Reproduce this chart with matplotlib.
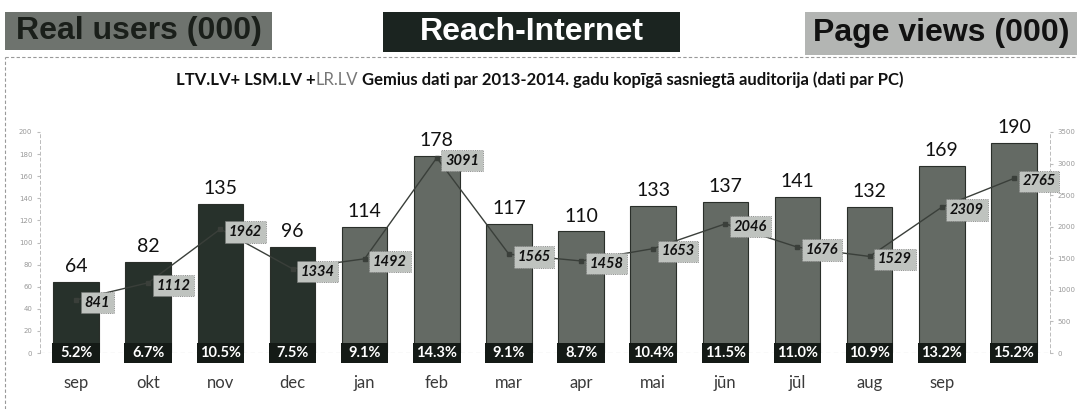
import matplotlib.pyplot as plt
from matplotlib.patches import Rectangle

months = ['sep', 'okt', 'nov', 'dec', 'jan', 'feb', 'mar', 'apr',
          'mai', 'jūn', 'jūl', 'aug', 'sep', '']
real_users = [64, 82, 135, 96, 114, 178, 117, 110, 133, 137, 141, 132, 169, 190]
page_views = [841, 1112, 1962, 1334, 1492, 3091, 1565, 1458, 1653, 2046, 1676, 1529, 2309, 2765]
reach = ['5.2%', '6.7%', '10.5%', '7.5%', '9.1%', '14.3%', '9.1%', '8.7%',
         '10.4%', '11.5%', '11.0%', '10.9%', '13.2%', '15.2%']

W, H = 1077, 409
fig = plt.figure(figsize=(W / 100, H / 100), dpi=100)
fig.patch.set_facecolor('white')

head_font = ['Liberation Sans Narrow', 'Liberation Sans', 'DejaVu Sans']
body_font = ['Lato', 'DejaVu Sans']

# header boxes (pixel positions -> figure fractions)
def header(x0, x1, y0, y1, color, text, tcolor):
    fig.patches.append(Rectangle((x0 / W, 1 - y1 / H), (x1 - x0) / W, (y1 - y0) / H,
                                 transform=fig.transFigure, facecolor=color, edgecolor='none'))
    fig.text((x0 + x1) / 2 / W, 1 - (y0 + y1) / 2 / H, text, ha='center', va='center',
             fontsize=23, fontweight='bold', color=tcolor, family=head_font)

header(5, 272, 12, 50, '#6e736e', 'Real users (000)', '#1a1f1a')
header(383, 680, 12, 52, '#1b2420', 'Reach-Internet', 'white')
header(805, 1077, 12, 55, '#b3b5b3', 'Page views (000)', '#111111')

# dashed frame round the chart
fig.add_artist(plt.Line2D([5 / W, 1], [1 - 57 / H, 1 - 57 / H], transform=fig.transFigure,
                          color='#999999', lw=0.8, ls=(0, (3, 2))))
fig.add_artist(plt.Line2D([5 / W, 5 / W], [0, 1 - 57 / H], transform=fig.transFigure,
                          color='#999999', lw=0.8, ls=(0, (3, 2))))

ax = fig.add_axes([40 / W, 1 - 353 / H, 1010 / W, 221 / H])

# title, with LR.LV in lighter grey
tsize = 12
t1 = fig.text(176 / W, 1 - 80 / H, 'LTV.LV+ LSM.LV +', ha='left', va='center',
              fontsize=tsize, fontweight='bold', color='#111111', family=body_font)
a2 = ax.annotate('LR.LV', xy=(1, 0.5), xycoords=t1, va='center', ha='left',
                 fontsize=tsize, color='#777777', family=body_font, annotation_clip=False)
ax.annotate(' Gemius dati par 2013-2014. gadu kopīgā sasniegtā auditorija (dati par PC)',
            xy=(1, 0.5), xycoords=a2, va='center', ha='left', fontsize=tsize,
            fontweight='bold', color='#111111', family=body_font, annotation_clip=False)

x = list(range(len(months)))
colors = ['#27312b'] * 4 + ['#646a64'] * 10
ax.bar(x, real_users, width=0.63, color=colors, edgecolor='#2a2f2a', linewidth=0.8, zorder=2)

# reach boxes sitting on the zero line
ax.bar(x, [18] * len(x), bottom=-9, width=0.66, color='#141a16', zorder=4, clip_on=False)

for i, v in enumerate(real_users):
    ax.annotate(str(v), (i, v), xytext=(0, 5), textcoords='offset points', ha='center',
                va='bottom', fontsize=14, color='#111111', family=body_font)
    ax.text(i, 0, reach[i], ha='center', va='center', fontsize=10.5, fontweight='bold',
            color='white', family=body_font, zorder=5, clip_on=False)

ax.set_xlim(-0.5, len(months) - 0.5)
ax.set_ylim(0, 200)
ax.set_yticks(range(0, 201, 20))
ax.set_xticks(x)
ax.set_xticklabels(months, fontsize=12, color='#3a3a3a', family=body_font)
ax.tick_params(axis='x', length=0, pad=16)
ax.tick_params(axis='y', labelsize=5, labelcolor='#999999', length=2, color='#bbbbbb')
ax.axhline(0, color='#999999', lw=0.8, ls=(0, (4, 3)), zorder=1)
for s in ['top', 'right', 'bottom']:
    ax.spines[s].set_visible(False)
ax.spines['left'].set_color('#bbbbbb')
ax.spines['left'].set_linestyle((0, (3, 3)))
ax.spines['left'].set_linewidth(0.7)

ax2 = ax.twinx()
ax2.set_ylim(0, 3500)
ax2.set_yticks(range(0, 3501, 500))
ax2.tick_params(axis='y', labelsize=5, labelcolor='#999999', length=2, color='#bbbbbb')
for s in ['top', 'left', 'bottom']:
    ax2.spines[s].set_visible(False)
ax2.spines['right'].set_color('#bbbbbb')
ax2.spines['right'].set_linestyle((0, (3, 3)))
ax2.spines['right'].set_linewidth(0.7)

ax2.plot(x, page_views, color='#3a3f3a', lw=1.0, marker='s', markersize=3,
         markerfacecolor='#3a3f3a', zorder=3)
for i, v in enumerate(page_views):
    ax2.annotate(str(v), (i, v), xytext=(6, -2), textcoords='offset points', ha='left',
                 va='center', fontsize=10.5, fontweight='bold', fontstyle='italic',
                 color='#111111', family=body_font, annotation_clip=False, zorder=6,
                 bbox=dict(boxstyle='square,pad=0.25', facecolor='#bfc3bf',
                           edgecolor='#777777', linewidth=0.6, linestyle=':'))

fig.savefig('out.png', dpi=100)
